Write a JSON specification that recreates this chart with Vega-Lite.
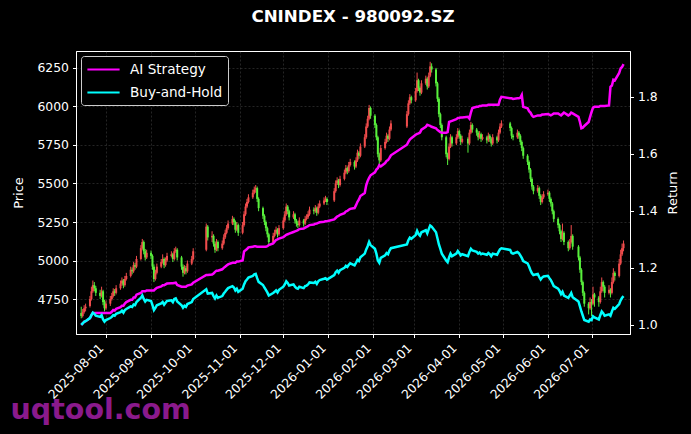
{
  "$schema": "https://vega.github.io/schema/vega-lite/v6.json",
  "autosize": {"type": "none"},
  "width": 554,
  "height": 283,
  "padding": {"left": 76, "top": 51, "right": 61, "bottom": 100},
  "background": "#000000",
  "title": {
    "text": "CNINDEX - 980092.SZ",
    "color": "white",
    "font": "DejaVu Sans",
    "fontSize": 16.7,
    "fontWeight": "bold",
    "anchor": "middle",
    "frame": "group",
    "baseline": "alphabetic",
    "offset": 12
  },
  "config": {
    "view": {"stroke": "white", "strokeWidth": 1},
    "axis": {
      "labelColor": "white",
      "titleColor": "white",
      "tickColor": "white",
      "domainColor": "white",
      "labelFont": "DejaVu Sans",
      "titleFont": "DejaVu Sans",
      "labelFontSize": 12.4,
      "titleFontSize": 13,
      "titleFontWeight": "normal",
      "tickSize": 3.5,
      "labelPadding": 4,
      "gridColor": "#888888",
      "gridOpacity": 0.45,
      "gridDash": [2, 2],
      "gridWidth": 0.6
    }
  },
  "data": {
    "values": [
      {"d":"2025-07-15","o":4660,"h":4700,"l":4625,"c":4640,"ai":1.000,"bh":1.000},
      {"d":"2025-07-16","o":4640,"h":4685,"l":4630,"c":4665,"ai":1.005,"bh":1.005},
      {"d":"2025-07-17","o":4665,"h":4710,"l":4655,"c":4690,"ai":1.011,"bh":1.011},
      {"d":"2025-07-18","o":4690,"h":4720,"l":4670,"c":4700,"ai":1.013,"bh":1.013},
      {"d":"2025-07-21","o":4705,"h":4770,"l":4695,"c":4750,"ai":1.024,"bh":1.024},
      {"d":"2025-07-22","o":4750,"h":4830,"l":4740,"c":4800,"ai":1.034,"bh":1.034},
      {"d":"2025-07-23","o":4800,"h":4870,"l":4790,"c":4840,"ai":1.042,"bh":1.043},
      {"d":"2025-07-24","o":4840,"h":4860,"l":4800,"c":4820,"ai":1.042,"bh":1.039},
      {"d":"2025-07-25","o":4820,"h":4835,"l":4770,"c":4790,"ai":1.042,"bh":1.032},
      {"d":"2025-07-28","o":4790,"h":4810,"l":4750,"c":4770,"ai":1.042,"bh":1.028},
      {"d":"2025-07-29","o":4770,"h":4830,"l":4760,"c":4800,"ai":1.042,"bh":1.034},
      {"d":"2025-07-30","o":4800,"h":4810,"l":4710,"c":4730,"ai":1.042,"bh":1.019},
      {"d":"2025-07-31","o":4730,"h":4745,"l":4670,"c":4690,"ai":1.042,"bh":1.011},
      {"d":"2025-08-01","o":4690,"h":4740,"l":4680,"c":4720,"ai":1.042,"bh":1.017},
      {"d":"2025-08-04","o":4720,"h":4770,"l":4705,"c":4750,"ai":1.042,"bh":1.024},
      {"d":"2025-08-05","o":4750,"h":4790,"l":4740,"c":4770,"ai":1.046,"bh":1.028},
      {"d":"2025-08-06","o":4770,"h":4820,"l":4760,"c":4800,"ai":1.052,"bh":1.034},
      {"d":"2025-08-07","o":4800,"h":4815,"l":4770,"c":4790,"ai":1.050,"bh":1.032},
      {"d":"2025-08-08","o":4790,"h":4840,"l":4780,"c":4820,"ai":1.056,"bh":1.039},
      {"d":"2025-08-11","o":4820,"h":4870,"l":4810,"c":4850,"ai":1.062,"bh":1.045},
      {"d":"2025-08-12","o":4850,"h":4890,"l":4835,"c":4870,"ai":1.067,"bh":1.050},
      {"d":"2025-08-13","o":4870,"h":4880,"l":4820,"c":4840,"ai":1.067,"bh":1.043},
      {"d":"2025-08-14","o":4840,"h":4900,"l":4830,"c":4880,"ai":1.075,"bh":1.052},
      {"d":"2025-08-15","o":4880,"h":4920,"l":4870,"c":4900,"ai":1.080,"bh":1.056},
      {"d":"2025-08-18","o":4900,"h":4960,"l":4890,"c":4940,"ai":1.088,"bh":1.065},
      {"d":"2025-08-19","o":4940,"h":4955,"l":4910,"c":4930,"ai":1.088,"bh":1.063},
      {"d":"2025-08-20","o":4930,"h":4990,"l":4920,"c":4970,"ai":1.096,"bh":1.071},
      {"d":"2025-08-21","o":4970,"h":4985,"l":4940,"c":4960,"ai":1.096,"bh":1.069},
      {"d":"2025-08-22","o":4960,"h":5030,"l":4950,"c":5010,"ai":1.106,"bh":1.080},
      {"d":"2025-08-25","o":5010,"h":5100,"l":5000,"c":5080,"ai":1.112,"bh":1.095},
      {"d":"2025-08-26","o":5080,"h":5140,"l":5070,"c":5120,"ai":1.118,"bh":1.103},
      {"d":"2025-08-27","o":5120,"h":5130,"l":5040,"c":5060,"ai":1.118,"bh":1.091},
      {"d":"2025-08-28","o":5060,"h":5075,"l":5000,"c":5020,"ai":1.118,"bh":1.082},
      {"d":"2025-08-29","o":5020,"h":5070,"l":5010,"c":5050,"ai":1.121,"bh":1.088},
      {"d":"2025-09-01","o":5050,"h":5065,"l":5010,"c":5030,"ai":1.121,"bh":1.084},
      {"d":"2025-09-02","o":5030,"h":5040,"l":4940,"c":4960,"ai":1.121,"bh":1.069},
      {"d":"2025-09-03","o":4960,"h":4975,"l":4860,"c":4880,"ai":1.121,"bh":1.052},
      {"d":"2025-09-04","o":4880,"h":4940,"l":4870,"c":4920,"ai":1.126,"bh":1.060},
      {"d":"2025-09-05","o":4920,"h":4980,"l":4910,"c":4960,"ai":1.130,"bh":1.069},
      {"d":"2025-09-08","o":4960,"h":5010,"l":4950,"c":4990,"ai":1.135,"bh":1.075},
      {"d":"2025-09-09","o":4990,"h":5040,"l":4980,"c":5010,"ai":1.139,"bh":1.080},
      {"d":"2025-09-10","o":5010,"h":5020,"l":4950,"c":4970,"ai":1.139,"bh":1.071},
      {"d":"2025-09-11","o":4970,"h":5020,"l":4960,"c":5000,"ai":1.142,"bh":1.078},
      {"d":"2025-09-12","o":5000,"h":5050,"l":4990,"c":5030,"ai":1.145,"bh":1.084},
      {"d":"2025-09-15","o":5030,"h":5060,"l":5020,"c":5040,"ai":1.146,"bh":1.086},
      {"d":"2025-09-16","o":5040,"h":5050,"l":4990,"c":5010,"ai":1.146,"bh":1.080},
      {"d":"2025-09-17","o":5010,"h":5080,"l":5000,"c":5060,"ai":1.147,"bh":1.091},
      {"d":"2025-09-18","o":5060,"h":5090,"l":5050,"c":5070,"ai":1.148,"bh":1.093},
      {"d":"2025-09-19","o":5070,"h":5080,"l":5000,"c":5020,"ai":1.140,"bh":1.082},
      {"d":"2025-09-22","o":5020,"h":5030,"l":4940,"c":4960,"ai":1.134,"bh":1.069},
      {"d":"2025-09-23","o":4960,"h":4975,"l":4895,"c":4920,"ai":1.134,"bh":1.060},
      {"d":"2025-09-24","o":4920,"h":4970,"l":4910,"c":4950,"ai":1.134,"bh":1.067},
      {"d":"2025-09-25","o":4950,"h":4965,"l":4910,"c":4930,"ai":1.134,"bh":1.063},
      {"d":"2025-09-26","o":4930,"h":5000,"l":4920,"c":4980,"ai":1.138,"bh":1.073},
      {"d":"2025-09-29","o":4980,"h":5030,"l":4970,"c":5010,"ai":1.142,"bh":1.080},
      {"d":"2025-09-30","o":5010,"h":5080,"l":5000,"c":5060,"ai":1.148,"bh":1.091},
      {"d":"2025-10-09","o":5070,"h":5240,"l":5060,"c":5220,"ai":1.175,"bh":1.125},
      {"d":"2025-10-10","o":5220,"h":5230,"l":5130,"c":5150,"ai":1.175,"bh":1.110},
      {"d":"2025-10-13","o":5150,"h":5190,"l":5120,"c":5160,"ai":1.177,"bh":1.112},
      {"d":"2025-10-14","o":5160,"h":5170,"l":5090,"c":5110,"ai":1.180,"bh":1.101},
      {"d":"2025-10-15","o":5110,"h":5125,"l":5050,"c":5070,"ai":1.186,"bh":1.093},
      {"d":"2025-10-16","o":5070,"h":5140,"l":5060,"c":5120,"ai":1.190,"bh":1.103},
      {"d":"2025-10-17","o":5120,"h":5130,"l":5060,"c":5080,"ai":1.190,"bh":1.095},
      {"d":"2025-10-20","o":5080,"h":5130,"l":5070,"c":5110,"ai":1.195,"bh":1.101},
      {"d":"2025-10-21","o":5110,"h":5170,"l":5100,"c":5150,"ai":1.200,"bh":1.110},
      {"d":"2025-10-22","o":5150,"h":5200,"l":5140,"c":5180,"ai":1.204,"bh":1.116},
      {"d":"2025-10-23","o":5180,"h":5230,"l":5170,"c":5210,"ai":1.208,"bh":1.123},
      {"d":"2025-10-24","o":5210,"h":5260,"l":5200,"c":5240,"ai":1.212,"bh":1.129},
      {"d":"2025-10-27","o":5240,"h":5290,"l":5230,"c":5270,"ai":1.218,"bh":1.136},
      {"d":"2025-10-28","o":5270,"h":5280,"l":5230,"c":5250,"ai":1.218,"bh":1.131},
      {"d":"2025-10-29","o":5250,"h":5260,"l":5180,"c":5200,"ai":1.218,"bh":1.121},
      {"d":"2025-10-30","o":5200,"h":5250,"l":5190,"c":5230,"ai":1.222,"bh":1.127},
      {"d":"2025-10-31","o":5230,"h":5240,"l":5160,"c":5180,"ai":1.222,"bh":1.116},
      {"d":"2025-11-03","o":5180,"h":5250,"l":5170,"c":5230,"ai":1.226,"bh":1.127},
      {"d":"2025-11-04","o":5230,"h":5320,"l":5220,"c":5300,"ai":1.258,"bh":1.142},
      {"d":"2025-11-05","o":5300,"h":5370,"l":5290,"c":5350,"ai":1.262,"bh":1.153},
      {"d":"2025-11-06","o":5350,"h":5400,"l":5340,"c":5380,"ai":1.266,"bh":1.159},
      {"d":"2025-11-07","o":5380,"h":5430,"l":5370,"c":5410,"ai":1.272,"bh":1.166},
      {"d":"2025-11-10","o":5410,"h":5460,"l":5400,"c":5440,"ai":1.274,"bh":1.172},
      {"d":"2025-11-11","o":5440,"h":5480,"l":5430,"c":5460,"ai":1.276,"bh":1.177},
      {"d":"2025-11-12","o":5460,"h":5490,"l":5440,"c":5470,"ai":1.276,"bh":1.179},
      {"d":"2025-11-13","o":5470,"h":5480,"l":5380,"c":5400,"ai":1.274,"bh":1.164},
      {"d":"2025-11-14","o":5400,"h":5410,"l":5320,"c":5340,"ai":1.274,"bh":1.151},
      {"d":"2025-11-17","o":5340,"h":5350,"l":5270,"c":5290,"ai":1.274,"bh":1.140},
      {"d":"2025-11-18","o":5290,"h":5300,"l":5230,"c":5250,"ai":1.274,"bh":1.131},
      {"d":"2025-11-19","o":5250,"h":5260,"l":5190,"c":5210,"ai":1.274,"bh":1.123},
      {"d":"2025-11-20","o":5210,"h":5220,"l":5150,"c":5170,"ai":1.276,"bh":1.114},
      {"d":"2025-11-21","o":5170,"h":5180,"l":5100,"c":5120,"ai":1.280,"bh":1.103},
      {"d":"2025-11-24","o":5120,"h":5180,"l":5110,"c":5160,"ai":1.286,"bh":1.112},
      {"d":"2025-11-25","o":5160,"h":5200,"l":5150,"c":5180,"ai":1.292,"bh":1.116},
      {"d":"2025-11-26","o":5180,"h":5220,"l":5170,"c":5200,"ai":1.298,"bh":1.121},
      {"d":"2025-11-27","o":5200,"h":5210,"l":5150,"c":5170,"ai":1.300,"bh":1.114},
      {"d":"2025-11-28","o":5170,"h":5230,"l":5160,"c":5210,"ai":1.303,"bh":1.123},
      {"d":"2025-12-01","o":5210,"h":5280,"l":5200,"c":5260,"ai":1.308,"bh":1.134},
      {"d":"2025-12-02","o":5260,"h":5320,"l":5250,"c":5300,"ai":1.312,"bh":1.142},
      {"d":"2025-12-03","o":5300,"h":5370,"l":5290,"c":5350,"ai":1.316,"bh":1.153},
      {"d":"2025-12-04","o":5350,"h":5360,"l":5300,"c":5320,"ai":1.318,"bh":1.147},
      {"d":"2025-12-05","o":5320,"h":5330,"l":5260,"c":5280,"ai":1.320,"bh":1.138},
      {"d":"2025-12-08","o":5280,"h":5320,"l":5270,"c":5300,"ai":1.326,"bh":1.142},
      {"d":"2025-12-09","o":5300,"h":5310,"l":5240,"c":5260,"ai":1.328,"bh":1.134},
      {"d":"2025-12-10","o":5260,"h":5270,"l":5220,"c":5240,"ai":1.330,"bh":1.129},
      {"d":"2025-12-11","o":5240,"h":5255,"l":5210,"c":5230,"ai":1.332,"bh":1.127},
      {"d":"2025-12-12","o":5230,"h":5280,"l":5220,"c":5260,"ai":1.336,"bh":1.134},
      {"d":"2025-12-15","o":5260,"h":5270,"l":5220,"c":5240,"ai":1.338,"bh":1.129},
      {"d":"2025-12-16","o":5240,"h":5290,"l":5230,"c":5270,"ai":1.341,"bh":1.136},
      {"d":"2025-12-17","o":5270,"h":5300,"l":5260,"c":5280,"ai":1.344,"bh":1.138},
      {"d":"2025-12-18","o":5280,"h":5320,"l":5270,"c":5300,"ai":1.346,"bh":1.142},
      {"d":"2025-12-19","o":5300,"h":5350,"l":5290,"c":5330,"ai":1.350,"bh":1.149},
      {"d":"2025-12-22","o":5330,"h":5345,"l":5300,"c":5320,"ai":1.352,"bh":1.147},
      {"d":"2025-12-23","o":5320,"h":5360,"l":5310,"c":5340,"ai":1.355,"bh":1.151},
      {"d":"2025-12-24","o":5340,"h":5350,"l":5290,"c":5310,"ai":1.356,"bh":1.144},
      {"d":"2025-12-25","o":5310,"h":5370,"l":5300,"c":5350,"ai":1.358,"bh":1.153},
      {"d":"2025-12-26","o":5350,"h":5390,"l":5340,"c":5370,"ai":1.360,"bh":1.157},
      {"d":"2025-12-29","o":5370,"h":5410,"l":5360,"c":5390,"ai":1.362,"bh":1.162},
      {"d":"2025-12-30","o":5390,"h":5420,"l":5380,"c":5400,"ai":1.364,"bh":1.164},
      {"d":"2025-12-31","o":5400,"h":5410,"l":5360,"c":5380,"ai":1.364,"bh":1.159},
      {"d":"2026-01-05","o":5390,"h":5470,"l":5380,"c":5450,"ai":1.370,"bh":1.175},
      {"d":"2026-01-06","o":5450,"h":5520,"l":5440,"c":5500,"ai":1.375,"bh":1.185},
      {"d":"2026-01-07","o":5500,"h":5540,"l":5490,"c":5520,"ai":1.380,"bh":1.190},
      {"d":"2026-01-08","o":5520,"h":5530,"l":5470,"c":5490,"ai":1.382,"bh":1.183},
      {"d":"2026-01-09","o":5490,"h":5550,"l":5480,"c":5530,"ai":1.386,"bh":1.192},
      {"d":"2026-01-12","o":5530,"h":5590,"l":5520,"c":5570,"ai":1.392,"bh":1.200},
      {"d":"2026-01-13","o":5570,"h":5620,"l":5560,"c":5600,"ai":1.398,"bh":1.207},
      {"d":"2026-01-14","o":5600,"h":5610,"l":5560,"c":5580,"ai":1.400,"bh":1.203},
      {"d":"2026-01-15","o":5580,"h":5640,"l":5570,"c":5620,"ai":1.404,"bh":1.211},
      {"d":"2026-01-16","o":5620,"h":5660,"l":5610,"c":5640,"ai":1.407,"bh":1.216},
      {"d":"2026-01-19","o":5640,"h":5650,"l":5590,"c":5610,"ai":1.410,"bh":1.209},
      {"d":"2026-01-20","o":5610,"h":5670,"l":5600,"c":5650,"ai":1.420,"bh":1.218},
      {"d":"2026-01-21","o":5650,"h":5720,"l":5640,"c":5700,"ai":1.432,"bh":1.228},
      {"d":"2026-01-22","o":5700,"h":5710,"l":5660,"c":5680,"ai":1.440,"bh":1.224},
      {"d":"2026-01-23","o":5680,"h":5760,"l":5670,"c":5740,"ai":1.452,"bh":1.237},
      {"d":"2026-01-26","o":5740,"h":5820,"l":5730,"c":5800,"ai":1.463,"bh":1.250},
      {"d":"2026-01-27","o":5800,"h":5890,"l":5790,"c":5870,"ai":1.490,"bh":1.265},
      {"d":"2026-01-28","o":5870,"h":5940,"l":5860,"c":5920,"ai":1.505,"bh":1.276},
      {"d":"2026-01-29","o":5920,"h":6010,"l":5910,"c":5990,"ai":1.516,"bh":1.291},
      {"d":"2026-01-30","o":5990,"h":6000,"l":5920,"c":5940,"ai":1.525,"bh":1.280},
      {"d":"2026-02-02","o":5940,"h":5950,"l":5860,"c":5880,"ai":1.535,"bh":1.267},
      {"d":"2026-02-03","o":5880,"h":5890,"l":5780,"c":5800,"ai":1.545,"bh":1.250},
      {"d":"2026-02-04","o":5800,"h":5810,"l":5670,"c":5690,"ai":1.550,"bh":1.226},
      {"d":"2026-02-05","o":5690,"h":5700,"l":5620,"c":5650,"ai":1.560,"bh":1.218},
      {"d":"2026-02-06","o":5650,"h":5750,"l":5640,"c":5730,"ai":1.556,"bh":1.235},
      {"d":"2026-02-09","o":5730,"h":5790,"l":5720,"c":5770,"ai":1.568,"bh":1.244},
      {"d":"2026-02-10","o":5770,"h":5830,"l":5760,"c":5810,"ai":1.575,"bh":1.252},
      {"d":"2026-02-11","o":5810,"h":5820,"l":5770,"c":5790,"ai":1.578,"bh":1.248},
      {"d":"2026-02-12","o":5790,"h":5870,"l":5780,"c":5850,"ai":1.586,"bh":1.261},
      {"d":"2026-02-13","o":5850,"h":5910,"l":5840,"c":5890,"ai":1.595,"bh":1.269},
      {"d":"2026-02-24","o":5870,"h":5970,"l":5860,"c":5950,"ai":1.632,"bh":1.282},
      {"d":"2026-02-25","o":5950,"h":6040,"l":5940,"c":6020,"ai":1.642,"bh":1.297},
      {"d":"2026-02-26","o":6020,"h":6080,"l":6010,"c":6060,"ai":1.650,"bh":1.306},
      {"d":"2026-02-27","o":6060,"h":6070,"l":6020,"c":6040,"ai":1.655,"bh":1.302},
      {"d":"2026-03-02","o":6040,"h":6120,"l":6030,"c":6100,"ai":1.667,"bh":1.315},
      {"d":"2026-03-03","o":6100,"h":6220,"l":6090,"c":6170,"ai":1.670,"bh":1.330},
      {"d":"2026-03-04","o":6170,"h":6180,"l":6100,"c":6120,"ai":1.672,"bh":1.319},
      {"d":"2026-03-05","o":6120,"h":6130,"l":6070,"c":6090,"ai":1.675,"bh":1.313},
      {"d":"2026-03-06","o":6090,"h":6170,"l":6080,"c":6150,"ai":1.685,"bh":1.325},
      {"d":"2026-03-09","o":6150,"h":6200,"l":6140,"c":6180,"ai":1.695,"bh":1.332},
      {"d":"2026-03-10","o":6180,"h":6190,"l":6110,"c":6130,"ai":1.702,"bh":1.321},
      {"d":"2026-03-11","o":6130,"h":6220,"l":6120,"c":6200,"ai":1.700,"bh":1.336},
      {"d":"2026-03-12","o":6200,"h":6290,"l":6190,"c":6260,"ai":1.698,"bh":1.349},
      {"d":"2026-03-13","o":6260,"h":6280,"l":6220,"c":6240,"ai":1.695,"bh":1.345},
      {"d":"2026-03-16","o":6240,"h":6250,"l":6130,"c":6150,"ai":1.690,"bh":1.325},
      {"d":"2026-03-17","o":6150,"h":6160,"l":6030,"c":6050,"ai":1.684,"bh":1.304},
      {"d":"2026-03-18","o":6050,"h":6060,"l":5930,"c":5950,"ai":1.680,"bh":1.282},
      {"d":"2026-03-19","o":5950,"h":5960,"l":5860,"c":5880,"ai":1.676,"bh":1.267},
      {"d":"2026-03-20","o":5880,"h":5890,"l":5780,"c":5800,"ai":1.674,"bh":1.250},
      {"d":"2026-03-23","o":5800,"h":5810,"l":5670,"c":5690,"ai":1.674,"bh":1.226},
      {"d":"2026-03-24","o":5690,"h":5700,"l":5620,"c":5660,"ai":1.676,"bh":1.220},
      {"d":"2026-03-25","o":5660,"h":5760,"l":5650,"c":5740,"ai":1.712,"bh":1.237},
      {"d":"2026-03-26","o":5740,"h":5820,"l":5730,"c":5800,"ai":1.714,"bh":1.250},
      {"d":"2026-03-27","o":5800,"h":5810,"l":5740,"c":5760,"ai":1.716,"bh":1.241},
      {"d":"2026-03-30","o":5760,"h":5820,"l":5750,"c":5800,"ai":1.722,"bh":1.250},
      {"d":"2026-03-31","o":5800,"h":5860,"l":5790,"c":5840,"ai":1.726,"bh":1.259},
      {"d":"2026-04-01","o":5840,"h":5850,"l":5790,"c":5810,"ai":1.726,"bh":1.252},
      {"d":"2026-04-02","o":5810,"h":5820,"l":5750,"c":5770,"ai":1.728,"bh":1.244},
      {"d":"2026-04-03","o":5770,"h":5810,"l":5760,"c":5790,"ai":1.728,"bh":1.248},
      {"d":"2026-04-07","o":5790,"h":5800,"l":5700,"c":5760,"ai":1.730,"bh":1.241},
      {"d":"2026-04-08","o":5760,"h":5850,"l":5750,"c":5830,"ai":1.724,"bh":1.256},
      {"d":"2026-04-09","o":5830,"h":5900,"l":5820,"c":5880,"ai":1.745,"bh":1.267},
      {"d":"2026-04-10","o":5880,"h":5890,"l":5830,"c":5850,"ai":1.761,"bh":1.261},
      {"d":"2026-04-13","o":5850,"h":5860,"l":5810,"c":5830,"ai":1.765,"bh":1.256},
      {"d":"2026-04-14","o":5830,"h":5840,"l":5780,"c":5800,"ai":1.765,"bh":1.250},
      {"d":"2026-04-15","o":5800,"h":5840,"l":5790,"c":5820,"ai":1.768,"bh":1.254},
      {"d":"2026-04-16","o":5820,"h":5830,"l":5770,"c":5790,"ai":1.768,"bh":1.248},
      {"d":"2026-04-17","o":5790,"h":5820,"l":5780,"c":5800,"ai":1.770,"bh":1.250},
      {"d":"2026-04-20","o":5800,"h":5810,"l":5760,"c":5780,"ai":1.770,"bh":1.246},
      {"d":"2026-04-21","o":5780,"h":5830,"l":5770,"c":5810,"ai":1.772,"bh":1.252},
      {"d":"2026-04-22","o":5810,"h":5820,"l":5770,"c":5790,"ai":1.772,"bh":1.248},
      {"d":"2026-04-23","o":5790,"h":5800,"l":5740,"c":5760,"ai":1.772,"bh":1.241},
      {"d":"2026-04-24","o":5760,"h":5820,"l":5750,"c":5800,"ai":1.772,"bh":1.250},
      {"d":"2026-04-27","o":5800,"h":5810,"l":5760,"c":5780,"ai":1.772,"bh":1.246},
      {"d":"2026-04-28","o":5780,"h":5850,"l":5770,"c":5830,"ai":1.772,"bh":1.256},
      {"d":"2026-04-29","o":5830,"h":5890,"l":5820,"c":5870,"ai":1.790,"bh":1.265},
      {"d":"2026-04-30","o":5870,"h":5910,"l":5860,"c":5890,"ai":1.800,"bh":1.269},
      {"d":"2026-05-06","o":5890,"h":5900,"l":5840,"c":5860,"ai":1.795,"bh":1.263},
      {"d":"2026-05-07","o":5860,"h":5870,"l":5790,"c":5810,"ai":1.795,"bh":1.252},
      {"d":"2026-05-08","o":5810,"h":5820,"l":5780,"c":5800,"ai":1.793,"bh":1.250},
      {"d":"2026-05-11","o":5800,"h":5850,"l":5790,"c":5830,"ai":1.795,"bh":1.256},
      {"d":"2026-05-12","o":5830,"h":5840,"l":5790,"c":5810,"ai":1.795,"bh":1.252},
      {"d":"2026-05-13","o":5810,"h":5820,"l":5750,"c":5770,"ai":1.797,"bh":1.244},
      {"d":"2026-05-14","o":5770,"h":5780,"l":5710,"c":5730,"ai":1.807,"bh":1.235},
      {"d":"2026-05-15","o":5730,"h":5740,"l":5660,"c":5680,"ai":1.765,"bh":1.224},
      {"d":"2026-05-18","o":5680,"h":5690,"l":5620,"c":5640,"ai":1.760,"bh":1.216},
      {"d":"2026-05-19","o":5640,"h":5650,"l":5570,"c":5590,"ai":1.750,"bh":1.205},
      {"d":"2026-05-20","o":5590,"h":5600,"l":5510,"c":5530,"ai":1.745,"bh":1.192},
      {"d":"2026-05-21","o":5530,"h":5540,"l":5460,"c":5480,"ai":1.735,"bh":1.181},
      {"d":"2026-05-22","o":5480,"h":5490,"l":5430,"c":5450,"ai":1.730,"bh":1.175},
      {"d":"2026-05-25","o":5450,"h":5490,"l":5440,"c":5470,"ai":1.735,"bh":1.179},
      {"d":"2026-05-26","o":5470,"h":5480,"l":5400,"c":5420,"ai":1.735,"bh":1.168},
      {"d":"2026-05-27","o":5420,"h":5430,"l":5360,"c":5380,"ai":1.735,"bh":1.159},
      {"d":"2026-05-28","o":5380,"h":5430,"l":5370,"c":5410,"ai":1.738,"bh":1.166},
      {"d":"2026-05-29","o":5410,"h":5450,"l":5400,"c":5430,"ai":1.738,"bh":1.170},
      {"d":"2026-06-01","o":5430,"h":5460,"l":5420,"c":5440,"ai":1.740,"bh":1.172},
      {"d":"2026-06-02","o":5440,"h":5450,"l":5380,"c":5400,"ai":1.738,"bh":1.164},
      {"d":"2026-06-03","o":5400,"h":5410,"l":5350,"c":5370,"ai":1.735,"bh":1.157},
      {"d":"2026-06-04","o":5370,"h":5380,"l":5300,"c":5320,"ai":1.738,"bh":1.147},
      {"d":"2026-06-05","o":5320,"h":5330,"l":5250,"c":5270,"ai":1.742,"bh":1.136},
      {"d":"2026-06-08","o":5270,"h":5280,"l":5210,"c":5230,"ai":1.742,"bh":1.127},
      {"d":"2026-06-09","o":5230,"h":5240,"l":5170,"c":5190,"ai":1.738,"bh":1.119},
      {"d":"2026-06-10","o":5190,"h":5200,"l":5120,"c":5140,"ai":1.735,"bh":1.108},
      {"d":"2026-06-11","o":5140,"h":5240,"l":5130,"c":5180,"ai":1.740,"bh":1.116},
      {"d":"2026-06-12","o":5180,"h":5190,"l":5100,"c":5120,"ai":1.745,"bh":1.103},
      {"d":"2026-06-15","o":5120,"h":5130,"l":5060,"c":5080,"ai":1.735,"bh":1.095},
      {"d":"2026-06-16","o":5080,"h":5140,"l":5070,"c":5120,"ai":1.738,"bh":1.103},
      {"d":"2026-06-17","o":5120,"h":5230,"l":5110,"c":5160,"ai":1.745,"bh":1.112},
      {"d":"2026-06-18","o":5160,"h":5170,"l":5070,"c":5090,"ai":1.742,"bh":1.097},
      {"d":"2026-06-22","o":5090,"h":5100,"l":5000,"c":5020,"ai":1.730,"bh":1.082},
      {"d":"2026-06-23","o":5020,"h":5030,"l":4920,"c":4940,"ai":1.712,"bh":1.065},
      {"d":"2026-06-24","o":4940,"h":4950,"l":4840,"c":4860,"ai":1.690,"bh":1.047},
      {"d":"2026-06-25","o":4860,"h":4870,"l":4770,"c":4790,"ai":1.692,"bh":1.032},
      {"d":"2026-06-26","o":4790,"h":4800,"l":4700,"c":4720,"ai":1.698,"bh":1.017},
      {"d":"2026-06-29","o":4720,"h":4730,"l":4650,"c":4690,"ai":1.712,"bh":1.011},
      {"d":"2026-06-30","o":4690,"h":4760,"l":4680,"c":4730,"ai":1.730,"bh":1.019},
      {"d":"2026-07-01","o":4730,"h":4750,"l":4640,"c":4720,"ai":1.747,"bh":1.017},
      {"d":"2026-07-02","o":4720,"h":4830,"l":4710,"c":4780,"ai":1.762,"bh":1.030},
      {"d":"2026-07-03","o":4780,"h":4790,"l":4700,"c":4760,"ai":1.765,"bh":1.026},
      {"d":"2026-07-06","o":4760,"h":4770,"l":4700,"c":4730,"ai":1.765,"bh":1.019},
      {"d":"2026-07-07","o":4730,"h":4830,"l":4720,"c":4800,"ai":1.768,"bh":1.034},
      {"d":"2026-07-08","o":4800,"h":4890,"l":4790,"c":4860,"ai":1.768,"bh":1.047},
      {"d":"2026-07-09","o":4860,"h":4870,"l":4800,"c":4830,"ai":1.768,"bh":1.041},
      {"d":"2026-07-10","o":4830,"h":4840,"l":4760,"c":4790,"ai":1.768,"bh":1.032},
      {"d":"2026-07-13","o":4790,"h":4840,"l":4780,"c":4810,"ai":1.770,"bh":1.037},
      {"d":"2026-07-14","o":4810,"h":4820,"l":4760,"c":4790,"ai":1.835,"bh":1.032},
      {"d":"2026-07-15","o":4790,"h":4890,"l":4780,"c":4860,"ai":1.840,"bh":1.047},
      {"d":"2026-07-16","o":4860,"h":4950,"l":4850,"c":4920,"ai":1.860,"bh":1.060},
      {"d":"2026-07-17","o":4920,"h":4930,"l":4870,"c":4900,"ai":1.858,"bh":1.056},
      {"d":"2026-07-20","o":4900,"h":5010,"l":4890,"c":4980,"ai":1.884,"bh":1.073},
      {"d":"2026-07-21","o":4980,"h":5070,"l":4970,"c":5040,"ai":1.900,"bh":1.086},
      {"d":"2026-07-22","o":5040,"h":5110,"l":5030,"c":5080,"ai":1.905,"bh":1.095},
      {"d":"2026-07-23","o":5080,"h":5130,"l":5060,"c":5110,"ai":1.915,"bh":1.101}
    ]
  },
  "encoding": {
    "x": {
      "field": "d",
      "type": "temporal",
      "scale": {
        "type": "utc",
        "domain": [
          {"year": 2025, "month": 7, "date": 14, "hours": 20, "utc": true},
          {"year": 2026, "month": 7, "date": 24, "utc": true}
        ]
      },
      "axis": {
        "values": [
          {"year": 2025, "month": 8, "date": 1, "utc": true},
          {"year": 2025, "month": 9, "date": 1, "utc": true},
          {"year": 2025, "month": 10, "date": 1, "utc": true},
          {"year": 2025, "month": 11, "date": 1, "utc": true},
          {"year": 2025, "month": 12, "date": 1, "utc": true},
          {"year": 2026, "month": 1, "date": 1, "utc": true},
          {"year": 2026, "month": 2, "date": 1, "utc": true},
          {"year": 2026, "month": 3, "date": 1, "utc": true},
          {"year": 2026, "month": 4, "date": 1, "utc": true},
          {"year": 2026, "month": 5, "date": 1, "utc": true},
          {"year": 2026, "month": 6, "date": 1, "utc": true},
          {"year": 2026, "month": 7, "date": 1, "utc": true}
        ],
        "format": "%Y-%m-%d",
        "labelAngle": -45,
        "labelAlign": "right",
        "labelBaseline": "bottom",
        "labelPadding": 13,
        "labelOverlap": false,
        "labelBound": false,
        "labelFlush": false,
        "grid": true,
        "title": "uqtool.com",
        "titleColor": "#8a1a8c",
        "titleFontSize": 28.5,
        "titleFontWeight": "bold",
        "titleAngle": 0,
        "titleAlign": "left",
        "titleBaseline": "alphabetic",
        "titleX": -66,
        "titleY": 84
      }
    }
  },
  "layer": [
    {
      "encoding": {
        "color": {
          "condition": {"test": "datum.c >= datum.o", "value": "#f04c4c"},
          "value": "#58f03c"
        }
      },
      "layer": [
        {
          "mark": {"type": "rule", "strokeWidth": 1, "clip": true},
          "encoding": {
            "y": {
              "field": "l",
              "type": "quantitative",
              "scale": {"domain": [4523, 6360], "nice": false, "zero": false},
              "axis": {
                "title": "Price",
                "values": [4750, 5000, 5250, 5500, 5750, 6000, 6250],
                "format": "d",
                "grid": true,
                "titlePadding": 11
              }
            },
            "y2": {"field": "h"}
          }
        },
        {
          "mark": {"type": "bar", "width": 2, "clip": true},
          "encoding": {
            "y": {"field": "o", "type": "quantitative"},
            "y2": {"field": "c"}
          }
        }
      ]
    },
    {
      "encoding": {
        "color": {
          "scale": {"domain": ["AI Strategy", "Buy-and-Hold"], "range": ["#ff00ff", "#00ffff"]},
          "legend": {
            "orient": "top-left",
            "offset": 5,
            "title": null,
            "fillColor": "#000000",
            "strokeColor": "#cccccc",
            "cornerRadius": 3,
            "padding": 5,
            "labelColor": "white",
            "labelFont": "DejaVu Sans",
            "labelFontSize": 13.6,
            "labelOffset": 18,
            "symbolType": "M-2.3,0H2.3",
            "symbolSize": 196,
            "symbolOffset": 9,
            "symbolStrokeWidth": 2.2,
            "rowPadding": 7
          }
        }
      },
      "layer": [
        {
          "mark": {"type": "line", "strokeWidth": 2.5, "clip": true},
          "encoding": {
            "y": {
              "field": "ai",
              "type": "quantitative",
              "scale": {"domain": [0.968, 1.961], "nice": false, "zero": false},
              "axis": {
                "orient": "right",
                "title": "Return",
                "titleAngle": 270,
                "titleBaseline": "bottom",
                "values": [1.0, 1.2, 1.4, 1.6, 1.8],
                "format": ".1f",
                "grid": false,
                "titlePadding": 22
              }
            },
            "color": {"datum": "AI Strategy"}
          }
        },
        {
          "mark": {"type": "line", "strokeWidth": 2.5, "clip": true},
          "encoding": {
            "y": {"field": "bh", "type": "quantitative"},
            "color": {"datum": "Buy-and-Hold"}
          }
        }
      ]
    }
  ],
  "resolve": {"scale": {"y": "independent"}}
}
